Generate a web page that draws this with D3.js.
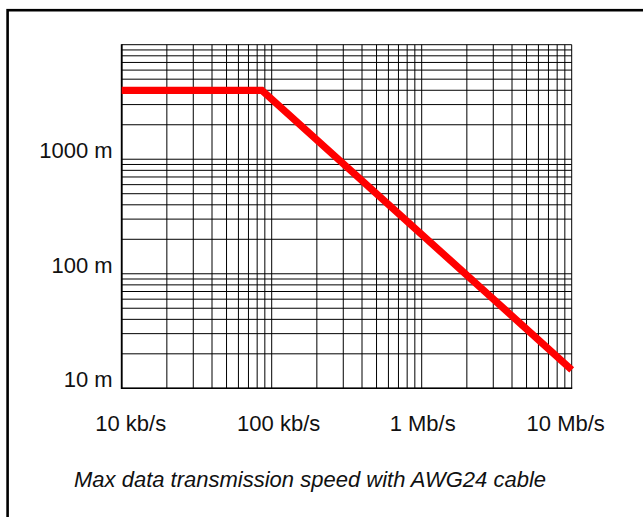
<!DOCTYPE html>
<html>
<head>
<meta charset="utf-8">
<script src="https://cdn.jsdelivr.net/npm/d3@7"></script>
<style>
  html, body { margin: 0; padding: 0; background: #fff; }
  svg { display: block; }
  text { font-family: "Liberation Sans", Arial, Helvetica, sans-serif; fill: #111; }
</style>
</head>
<body>
<div id="chart"></div>
<script>
// data
const speedTicks = [1e4, 1e5, 1e6, 1e7];
const speedLabels = ["10 kb/s", "100 kb/s", "1 Mb/s", "10 Mb/s"];
const lengthTicks = [10, 100, 1000];
const lengthLabels = ["10 m", "100 m", "1000 m"];
// max cable length vs speed (AWG24)
const speeds = [10000, 86000, 10000000];
const lengths = [4000, 4000, 14.5];
const caption = "Max data transmission speed with AWG24 cable";

// label nudges (px), the original labels are not exactly centred
const xLabelNudge = [9, 7, 1, -6];

const W = 643, H = 517;
const plot = { left: 121.7, right: 571.7, top: 44.7, bottom: 388.3 };

const svg = d3.select('#chart').append('svg')
    .attr('width', W)
    .attr('height', H);

// outer frame (right / bottom run off the picture)
svg.append('rect')
    .attr('x', 7.6).attr('y', 10.2)
    .attr('width', 800).attr('height', 800)
    .attr('fill', 'none')
    .attr('stroke', '#000')
    .attr('stroke-width', 2.6);

const x = d3.scaleLog().domain([1e4, 1e7]).range([plot.left, plot.right]);
const y = d3.scaleLog().domain([10, 1e4]).range([plot.bottom, plot.top]);

const g = svg.append('g');

// grid
g.selectAll('line.vgrid')
    .data(x.ticks())
    .join('line')
    .attr('class', 'vgrid')
    .attr('x1', d => x(d)).attr('x2', d => x(d))
    .attr('y1', plot.top).attr('y2', plot.bottom)
    .attr('stroke', '#000')
    .attr('stroke-width', 1);

g.selectAll('line.hgrid')
    .data(y.ticks())
    .join('line')
    .attr('class', 'hgrid')
    .attr('x1', plot.left).attr('x2', plot.right)
    .attr('y1', d => y(d)).attr('y2', d => y(d))
    .attr('stroke', '#000')
    .attr('stroke-width', 1);

// axis lines (left + bottom a bit heavier)
g.append('line')
    .attr('x1', plot.left).attr('x2', plot.left)
    .attr('y1', plot.top - 0.5).attr('y2', plot.bottom + 0.8)
    .attr('stroke', '#000').attr('stroke-width', 1.8);
g.append('line')
    .attr('x1', plot.left).attr('x2', plot.right + 0.5)
    .attr('y1', plot.bottom).attr('y2', plot.bottom)
    .attr('stroke', '#000').attr('stroke-width', 1.6);

// curve
const line = d3.line()
    .x(d => x(d[0]))
    .y(d => y(d[1]));

g.append('path')
    .datum(d3.zip(speeds, lengths))
    .attr('d', line)
    .attr('fill', 'none')
    .attr('stroke', '#ff0000')
    .attr('stroke-width', 7.2)
    .attr('stroke-linejoin', 'miter')
    .attr('stroke-linecap', 'butt');

// y labels
svg.selectAll('text.ylab')
    .data(lengthTicks)
    .join('text')
    .attr('class', 'ylab')
    .attr('x', plot.left - 9)
    .attr('y', d => y(d) - 1)
    .attr('text-anchor', 'end')
    .attr('font-size', 22)
    .text((d, i) => lengthLabels[i]);

// x labels
svg.selectAll('text.xlab')
    .data(speedTicks)
    .join('text')
    .attr('class', 'xlab')
    .attr('x', (d, i) => x(d) + xLabelNudge[i])
    .attr('y', 431)
    .attr('text-anchor', 'middle')
    .attr('font-size', 22)
    .text((d, i) => speedLabels[i]);

// caption
svg.append('text')
    .attr('x', 74)
    .attr('y', 487)
    .attr('font-size', 22)
    .attr('font-style', 'italic')
    .text(caption);
</script>
</body>
</html>
